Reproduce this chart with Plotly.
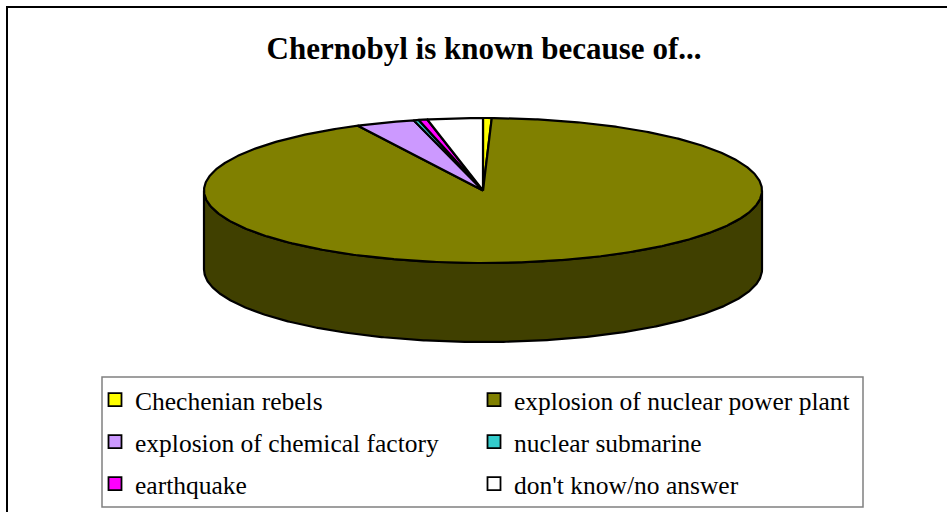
import numpy as np
import plotly.graph_objects as go

# survey answers, share of respondents (%)
labels = ['Chechenian rebels', 'explosion of nuclear power plant',
          'explosion of chemical factory', 'nuclear submarine',
          'earthquake', "don't know/no answer"]
shares = [0.5, 92.1, 3.4, 0.3, 0.5, 3.2]
colors = ['#FFFF00', '#808000', '#CC99FF', '#33CCCC', '#FF00FF', '#FFFFFF']
side_colors = ['#808000', '#404000', '#664C80', '#196666', '#800080', '#808080']

# geometry of the flattened 3-D pie, in page pixels
cx, cy = 483, 190.5
rx, ry = 279, 72.5
depth = 79


def rim(a0, a1, dy=0.0):
    t = np.radians(np.linspace(a0, a1, max(int(abs(a1 - a0) * 2), 2)))
    return cx + rx * np.sin(t), cy - ry * np.cos(t) + dy


fig = go.Figure()

total = sum(shares)
bounds = np.concatenate([[0], np.cumsum(shares) / total * 360])

# side walls (front half only: 90..270 degrees clockwise from top)
for i in range(len(shares)):
    a0, a1 = max(bounds[i], 90), min(bounds[i + 1], 270)
    if a1 <= a0:
        continue
    xt, yt = rim(a0, a1)
    xb, yb = rim(a1, a0, depth)
    fig.add_trace(go.Scatter(
        x=np.concatenate([xt, xb, xt[:1]]), y=np.concatenate([yt, yb, yt[:1]]),
        mode='lines', fill='toself', fillcolor=side_colors[i],
        line=dict(color='black', width=2.2), hoverinfo='skip', showlegend=False))

# top faces
for i in range(len(shares)):
    xe, ye = rim(bounds[i], bounds[i + 1])
    fig.add_trace(go.Scatter(
        x=np.concatenate([[cx], xe, [cx]]), y=np.concatenate([[cy], ye, [cy]]),
        mode='lines', fill='toself', fillcolor=colors[i],
        line=dict(color='black', width=2.2), name=labels[i],
        hovertemplate=f'{labels[i]}: {shares[i]}%<extra></extra>', showlegend=False))

# legend entries, two per row, one plotly legend per row
legend_ids = ['legend', 'legend2', 'legend3']
for k, (lab, col) in enumerate(zip(labels, colors)):
    fig.add_trace(go.Scatter(
        x=[None], y=[None], mode='markers', name=lab, legend=legend_ids[k // 2],
        marker=dict(symbol='square', size=13, color=col, line=dict(color='black', width=1.8))))

row_y = [400, 442, 484]
legend_style = dict(orientation='h', x=95 / 947, xanchor='left', yanchor='middle',
                    entrywidth=334, itemwidth=30, traceorder='normal',
                    borderwidth=0, bgcolor='rgba(0,0,0,0)', font=dict(size=25.5))

fig.update_layout(
    width=947, height=512,
    margin=dict(l=0, r=0, t=0, b=0),
    plot_bgcolor='white', paper_bgcolor='white',
    font=dict(family='Liberation Serif, Times New Roman, serif', color='black'),
    title=dict(text='<b>Chernobyl is known because of...</b>',
               x=484 / 947, xanchor='center', y=1 - 48 / 512, yanchor='middle',
               font=dict(size=31)),
    xaxis=dict(range=[0, 947], visible=False, fixedrange=True),
    yaxis=dict(range=[512, 0], visible=False, fixedrange=True),
    showlegend=True,
    legend=dict(y=1 - row_y[0] / 512, **legend_style),
    legend2=dict(y=1 - row_y[1] / 512, **legend_style),
    legend3=dict(y=1 - row_y[2] / 512, **legend_style),
    shapes=[
        dict(type='rect', xref='paper', yref='paper',
             x0=7 / 947, y0=1 - 7 / 512, x1=1.05, y1=-0.05,
             line=dict(color='black', width=2)),
        dict(type='rect', xref='paper', yref='paper',
             x0=102 / 947, y0=1 - 377 / 512, x1=863 / 947, y1=1 - 507 / 512,
             line=dict(color='#808080', width=1.5)),
    ],
)

# drop the page's default body margin so the figure sits at the window's corner
fig.write_html('out.html', config={'displayModeBar': False},
               post_script="document.body.style.margin='0';")
